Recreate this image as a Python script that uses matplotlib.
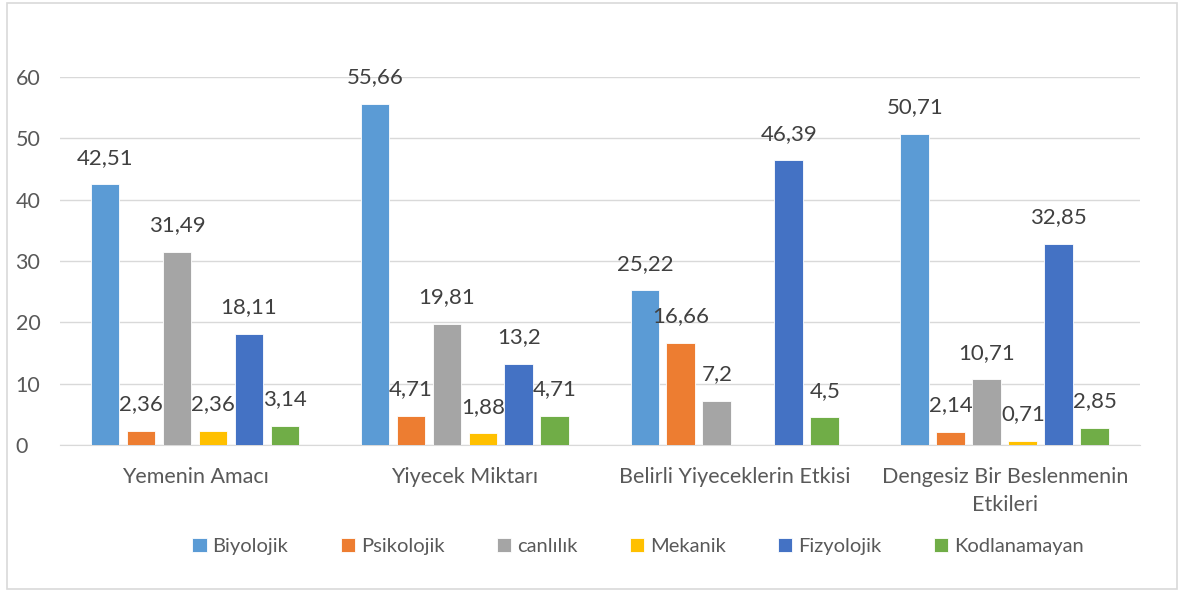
import numpy as np
import matplotlib.pyplot as plt
from matplotlib.patches import Rectangle

plt.rcParams['font.family'] = ['Lato', 'DejaVu Sans']

categories = ['Yemenin Amacı', 'Yiyecek Miktarı', 'Belirli Yiyeceklerin Etkisi',
              'Dengesiz Bir Beslenmenin\nEtkileri']
series = ['Biyolojik', 'Psikolojik', 'canlılık', 'Mekanik', 'Fizyolojik', 'Kodlanamayan']
biyolojik = [42.51, 55.66, 25.22, 50.71]
psikolojik = [2.36, 4.71, 16.66, 2.14]
canlilik = [31.49, 19.81, 7.2, 10.71]
mekanik = [2.36, 1.88, None, 0.71]
fizyolojik = [18.11, 13.2, 46.39, 32.85]
kodlanamayan = [3.14, 4.71, 4.5, 2.85]
values = [biyolojik, psikolojik, canlilik, mekanik, fizyolojik, kodlanamayan]
colors = ['#5B9BD5', '#ED7D31', '#A5A5A5', '#FFC000', '#4472C4', '#70AD47']

txt = '#595959'
fig = plt.figure(figsize=(11.84, 5.92), dpi=100)
ax = fig.add_axes([0.0507, 0.2483, 0.912, 0.6216])

x = np.arange(len(categories))
pitch = 0.1333
width = 0.107
for i, (name, vals, c) in enumerate(zip(series, values, colors)):
    xs = [xi + (i - 2.5) * pitch for xi, v in zip(x, vals) if v is not None]
    vs = [v for v in vals if v is not None]
    bars = ax.bar(xs, vs, width, color=c, edgecolor='white', linewidth=0.6,
                  label=name, zorder=3)
    for b, v in zip(bars, vs):
        ax.annotate(f'{v:g}'.replace('.', ','),
                    (b.get_x() + b.get_width() / 2, v),
                    xytext=(0, 12), textcoords='offset points',
                    ha='center', va='bottom', fontsize=16, color='#404040')

ax.set_xlim(-0.5, 3.5)
ax.set_ylim(0, 60)
ax.set_yticks(range(0, 61, 10))
ax.set_xticks(x)
ax.set_xticklabels(categories, linespacing=1.5)
ax.tick_params(axis='both', length=0, labelsize=15.5, colors=txt)
ax.tick_params(axis='x', pad=16)
ax.tick_params(axis='y', pad=32)
ax.grid(axis='y', color='#D9D9D9', linewidth=1, zorder=0)
for s in ['top', 'right', 'left']:
    ax.spines[s].set_visible(False)
ax.spines['bottom'].set_color('#D9D9D9')
for t in ax.get_yticklabels():
    t.set_horizontalalignment('left')

leg = fig.legend(loc='center', bbox_to_anchor=(0.539, 0.077), ncol=6, frameon=False,
                 fontsize=14.5, handlelength=0.7, handleheight=0.7,
                 handletextpad=0.3, columnspacing=2.6)
for t in leg.get_texts():
    t.set_color(txt)

fig.patches.append(Rectangle((0.006, 0.005), 0.988, 0.99, transform=fig.transFigure,
                             fill=False, edgecolor='#D9D9D9', linewidth=1.2))

fig.savefig('out.png', dpi=100)
